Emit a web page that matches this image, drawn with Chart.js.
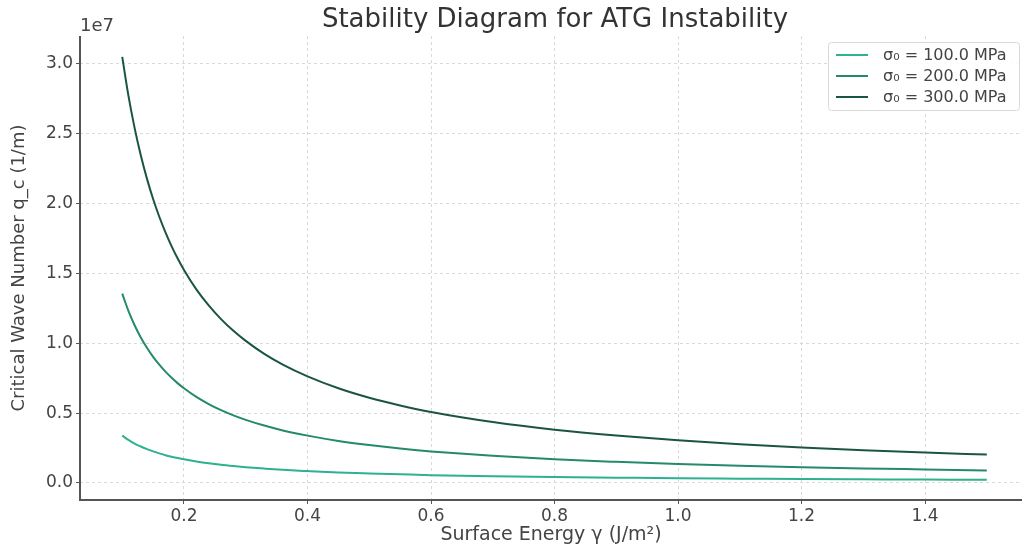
<!DOCTYPE html>
<html>
<head>
<meta charset="utf-8">
<script src="https://cdn.jsdelivr.net/npm/chart.js@4.4.1/dist/chart.umd.min.js"></script>
<style>
html,body{margin:0;padding:0;background:#fff;}
#wrap{width:1022px;height:548px;position:relative;}
</style>
</head>
<body>
<div id="wrap"><canvas id="c" width="1022" height="548"></canvas></div>
<script>
const gammaValues = [0.1,0.11,0.12,0.13,0.14,0.15,0.16,0.17,0.18,0.19,0.2,0.22,0.24,0.26,0.28,0.3,0.33,0.36,0.4,0.45,0.5,0.55,0.6,0.7,0.8,0.9,1.0,1.1,1.2,1.3,1.4,1.5];
const q100 = [3.39,3.08,2.82,2.61,2.42,2.26,2.12,1.99,1.88,1.78,1.69,1.54,1.41,1.30,1.21,1.13,1.03,0.94,0.85,0.75,0.68,0.62,0.56,0.48,0.42,0.38,0.34,0.31,0.28,0.26,0.24,0.23];
const q200 = [13.55,12.32,11.29,10.42,9.68,9.03,8.47,7.97,7.53,7.13,6.78,6.16,5.65,5.21,4.84,4.52,4.11,3.76,3.39,3.01,2.71,2.46,2.26,1.94,1.69,1.51,1.36,1.23,1.13,1.04,0.97,0.9];
const q300 = [30.5,27.73,25.42,23.46,21.79,20.33,19.06,17.94,16.94,16.05,15.25,13.86,12.71,11.73,10.89,10.17,9.24,8.47,7.63,6.78,6.1,5.55,5.08,4.36,3.81,3.39,3.05,2.77,2.54,2.35,2.18,2.03];
const seriesLabels = ['σ₀ = 100.0 MPa','σ₀ = 200.0 MPa','σ₀ = 300.0 MPa'];
const seriesColors = ['#2eb18f','#24896d','#1b5446'];
const xTicks = [0.2,0.4,0.6,0.8,1.0,1.2,1.4];
const yTicks = [0.0,0.5,1.0,1.5,2.0,2.5,3.0];
const titleText = 'Stability Diagram for ATG Instability';
const xTitle = 'Surface Energy γ (J/m²)';
const yTitle = 'Critical Wave Number q_c (1/m)';
const yExponent = '1e7';

const FONT = 'DejaVu Sans';
const TXT = '#444';

function toPts(arr){ return gammaValues.map((g,i)=>({x:g, y:arr[i]*1e6})); }
const datasets = [q100,q200,q300].map((arr,i)=>({
  label: seriesLabels[i],
  data: toPts(arr),
  borderColor: seriesColors[i],
  backgroundColor: seriesColors[i],
  borderWidth: 2,
  pointRadius: 0,
  cubicInterpolationMode: 'monotone',
  fill: false
}));

const decor = {
  id:'decor',
  afterDraw(chart){
    const ctx = chart.ctx, a = chart.chartArea;
    ctx.save();
    ctx.strokeStyle = '#555'; ctx.lineWidth = 2;
    ctx.beginPath(); ctx.moveTo(a.left, a.top); ctx.lineTo(a.left, a.bottom); ctx.lineTo(a.right, a.bottom); ctx.stroke();
    ctx.fillStyle = '#333'; ctx.font = '26px "' + FONT + '"';
    ctx.textAlign = 'center'; ctx.textBaseline = 'middle';
    ctx.fillText(titleText, 555, 20);
    ctx.font = '18px "' + FONT + '"'; ctx.fillStyle = TXT;
    ctx.textAlign = 'left';
    ctx.fillText(yExponent, 80, 26);
    const lx = 828, ly = 42, lw = 191, lh = 68;
    ctx.fillStyle = 'rgba(255,255,255,0.85)';
    ctx.strokeStyle = '#d8d8d8'; ctx.lineWidth = 1;
    ctx.beginPath();
    if (ctx.roundRect) ctx.roundRect(lx+0.5, ly+0.5, lw, lh, 3); else ctx.rect(lx+0.5, ly+0.5, lw, lh);
    ctx.fill(); ctx.stroke();
    ctx.font = '16px "' + FONT + '"';
    chart.data.datasets.forEach((ds,i)=>{
      const yy = ly + 13 + i*21;
      ctx.strokeStyle = ds.borderColor; ctx.lineWidth = 2;
      ctx.beginPath(); ctx.moveTo(lx+8, yy); ctx.lineTo(lx+40, yy); ctx.stroke();
      ctx.fillStyle = TXT; ctx.textAlign='left'; ctx.textBaseline='middle';
      ctx.fillText(ds.label, lx+55, yy+1);
    });
    ctx.restore();
  }
};

new Chart(document.getElementById('c'), {
  type: 'line',
  data: { datasets },
  options: {
    responsive: false,
    animation: false,
    layout: { padding: { top: 36, right: 0, left: 0, bottom: 0 } },
    plugins: { legend: { display: false }, title: { display: false }, tooltip: { enabled: false } },
    scales: {
      x: {
        type: 'linear', min: 0.0316, max: 1.557,
        afterBuildTicks(s){ s.ticks = xTicks.map(v=>({value:v})); },
        afterFit(s){ s.height = 48; },
        grid: { color: '#d9d9d9', lineWidth: 1, tickColor: '#555', tickLength: 4, tickWidth: 1 },
        border: { display: false, dash: [3,3] },
        ticks: { color: TXT, font: { family: FONT, size: 17 }, padding: 2, maxRotation: 0,
          callback: v => v.toFixed(1) },
        title: { display: true, text: xTitle, color: TXT, font: { family: FONT, size: 19 }, padding: { top: 0, bottom: 2 } }
      },
      y: {
        type: 'linear', min: -0.122e7, max: 3.2e7,
        afterBuildTicks(s){ s.ticks = yTicks.map(v=>({value:v*1e7})); },
        afterFit(s){ s.width = 80; },
        grid: { color: '#d9d9d9', lineWidth: 1, tickColor: '#555', tickLength: 4, tickWidth: 1 },
        border: { display: false, dash: [3,3] },
        ticks: { color: TXT, font: { family: FONT, size: 17 }, padding: 3,
          callback: v => (v/1e7).toFixed(1) },
        title: { display: true, text: yTitle, color: TXT, font: { family: FONT, size: 18 }, padding: { top: 9, bottom: 0 } }
      }
    }
  },
  plugins: [decor]
});
</script>
</body>
</html>
